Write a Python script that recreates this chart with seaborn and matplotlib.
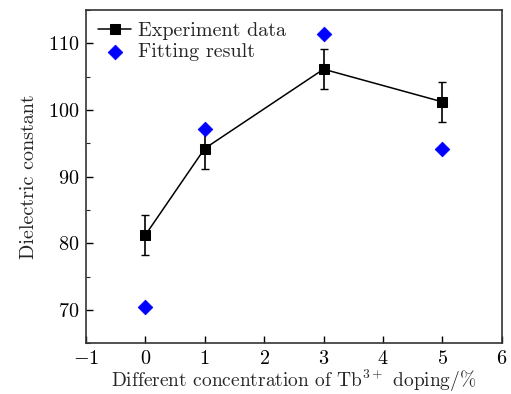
import matplotlib
matplotlib.use("Agg")
import matplotlib.pyplot as plt
import seaborn as sns
import pandas as pd
from matplotlib.ticker import MultipleLocator

concentration = [0, 1, 3, 5]
experiment = [81.2, 94.2, 106.1, 101.2]
experiment_err = [3.0, 3.0, 3.0, 3.0]
fitting = [70.4, 97.2, 111.4, 94.2]

sns.set_theme(style="ticks")
plt.rcParams["font.family"] = ["cmr10", "DejaVu Serif"]
plt.rcParams["mathtext.fontset"] = "cm"
plt.rcParams["axes.formatter.use_mathtext"] = True
plt.rcParams["axes.unicode_minus"] = True

df_exp = pd.DataFrame({"x": concentration, "y": experiment})
df_fit = pd.DataFrame({"x": concentration, "y": fitting})

fig = plt.figure(figsize=(5.11, 3.94), dpi=100)
ax = fig.add_axes([0.168, 0.129, 0.814, 0.846])

ax.errorbar(concentration, experiment, yerr=experiment_err, fmt="none",
            ecolor="black", elinewidth=1.2, capsize=2.8, capthick=1.0, zorder=2)
sns.lineplot(data=df_exp, x="x", y="y", ax=ax, color="black", linewidth=1.1,
             marker="s", markersize=7, markeredgecolor="black",
             markerfacecolor="black", label="Experiment data", zorder=3)
sns.scatterplot(data=df_fit, x="x", y="y", ax=ax, color="blue", marker="D",
                s=55, edgecolor="blue", label="Fitting result", zorder=3)

ax.set_xlim(-1, 6)
ax.set_ylim(65, 115)
ax.xaxis.set_major_locator(MultipleLocator(1))
ax.yaxis.set_major_locator(MultipleLocator(10))
ax.yaxis.set_minor_locator(MultipleLocator(5))
ax.tick_params(axis="both", which="major", direction="in", length=5, width=1,
               labelsize=14.5, colors="black", pad=5)
ax.tick_params(axis="y", which="minor", direction="in", length=3, width=0.8)
for sp in ax.spines.values():
    sp.set_linewidth(1.2)
    sp.set_color("#333333")

ax.set_xlabel(r"Different concentration of Tb$^{3+}$ doping/%", fontsize=14, labelpad=0)
ax.set_ylabel("Dielectric constant", fontsize=14.5, labelpad=7)

leg = ax.legend(loc="upper left", frameon=False, fontsize=14.5, handlelength=1.65,
                borderaxespad=0.2, handletextpad=0.35, labelspacing=0.15)

fig.savefig("out.png", dpi=100)
